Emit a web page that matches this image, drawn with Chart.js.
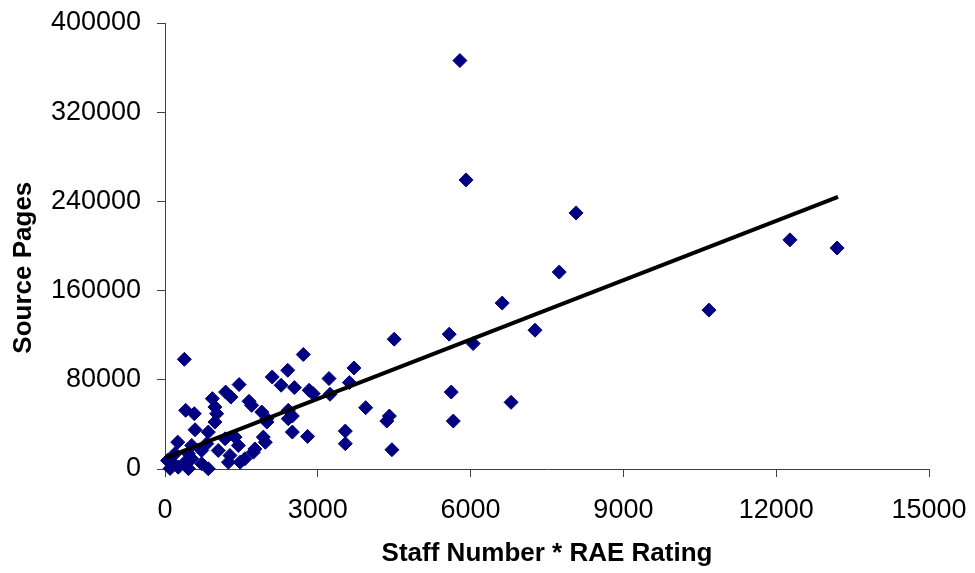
<!DOCTYPE html>
<html>
<head>
<meta charset="utf-8">
<script src="https://cdn.jsdelivr.net/npm/chart.js@4"></script>
<style>
  html, body { margin: 0; padding: 0; background: #fff; }
  #wrap { width: 975px; height: 573px; position: relative; }
</style>
</head>
<body>
<div id="wrap"><canvas id="c" width="975" height="573"></canvas></div>
<script>
// Data
const staffRae = [5790, 5910, 8070, 12270, 13195, 7740, 6620, 10680, 7265, 5580,
  6050, 4500, 2715, 380, 3710, 2410, 2105, 3220, 3620, 1455,
  2280, 2540, 2830, 2910, 3240, 5620, 1190, 1295, 930, 1650,
  1700, 980, 405, 575, 1900, 1015, 2000, 2420, 2500, 980,
  590, 850, 2500, 2800, 250, 525, 1180, 1375, 1930, 1765,
  1440, 1735, 820, 720, 1045, 1275, 1475, 1245, 720, 50,
  165, 260, 395, 525, 195, 460, 100, 3940, 4405, 4355,
  5660, 3540, 3540, 4455, 6795, 2000, 2420, 1970, 460, 850, 1570];
const sourcePages = [366300, 259300, 229700, 205500, 198200, 176600, 148800, 142500, 124500, 120900,
  112500, 116400, 102700, 98400, 90600, 88500, 82500, 81100, 77500, 75700,
  75100, 73000, 70600, 67600, 67000, 69000, 69000, 64500, 63100, 60700,
  57100, 55600, 52600, 49600, 51100, 49600, 45100, 52600, 47500, 42100,
  35200, 33100, 33100, 29200, 24100, 21100, 27100, 28600, 28600, 18000,
  21100, 15100, 22700, 16600, 16600, 12100, 6100, 6100, 4700, 7600,
  4700, 1600, 6100, 9200, 13700, 13700, 500, 55000, 47500, 43000,
  43000, 34000, 22700, 17300, 59800, 42100, 45100, 24000, 300, 200, 9200];
const trendX = [0, 13214];
const trendY = [9700, 244000];
const xTicks = [0, 3000, 6000, 9000, 12000, 15000];
const yTicks = [0, 80000, 160000, 240000, 320000, 400000];
const xTitle = 'Staff Number * RAE Rating';
const yTitle = 'Source Pages';

const points = staffRae.map((x, i) => ({x: x, y: sourcePages[i]}));
const trend = trendX.map((x, i) => ({x: x, y: trendY[i]}));

const tickFont = {family: 'Liberation Sans, Arial, sans-serif', size: 27};
const titleFont = {family: 'Liberation Sans, Arial, sans-serif', size: 26, weight: 'bold'};
const axisColor = '#404040';

new Chart(document.getElementById('c'), {
  type: 'scatter',
  data: {
    datasets: [
      {
        type: 'line',
        data: trend,
        borderColor: '#000000',
        borderWidth: 4,
        pointRadius: 0,
        fill: false,
        order: 0,
        clip: false
      },
      {
        data: points,
        pointStyle: 'rectRot',
        pointRadius: 7,
        pointBorderWidth: 1,
        backgroundColor: '#000080',
        borderColor: '#000080',
        order: 1,
        clip: false
      }
    ]
  },
  options: {
    responsive: false,
    animation: false,
    devicePixelRatio: 1,
    layout: { padding: { left: 0, right: 46, top: 23, bottom: 0 } },
    plugins: { legend: { display: false }, tooltip: { enabled: false } },
    scales: {
      x: {
        type: 'linear',
        min: 0, max: 15000,
        afterBuildTicks: s => { s.ticks = xTicks.map(v => ({value: v})); },
        afterFit: s => { s.height = 104; s.paddingLeft = 0; s.paddingRight = 0; },
        grid: { drawOnChartArea: false, drawTicks: true, tickLength: 8, color: axisColor },
        border: { color: axisColor, width: 1 },
        ticks: { font: tickFont, color: '#000', padding: 17, maxRotation: 0,
                 callback: v => String(v) },
        title: { display: true, text: xTitle, font: titleFont, color: '#000',
                 padding: { top: 4, bottom: 4 } }
      },
      y: {
        type: 'linear',
        min: 0, max: 400000,
        afterBuildTicks: s => { s.ticks = yTicks.map(v => ({value: v})); },
        afterFit: s => { s.width = 165; s.paddingTop = 0; s.paddingBottom = 0; },
        grid: { drawOnChartArea: false, drawTicks: true, tickLength: 8, color: axisColor },
        border: { color: axisColor, width: 1 },
        ticks: { font: tickFont, color: '#000', padding: 16,
                 callback: v => String(v) },
        title: { display: true, text: yTitle + '      ', font: titleFont, color: '#000',
                 padding: { top: 8, bottom: 4 } }
      }
    }
  }
});
</script>
</body>
</html>
